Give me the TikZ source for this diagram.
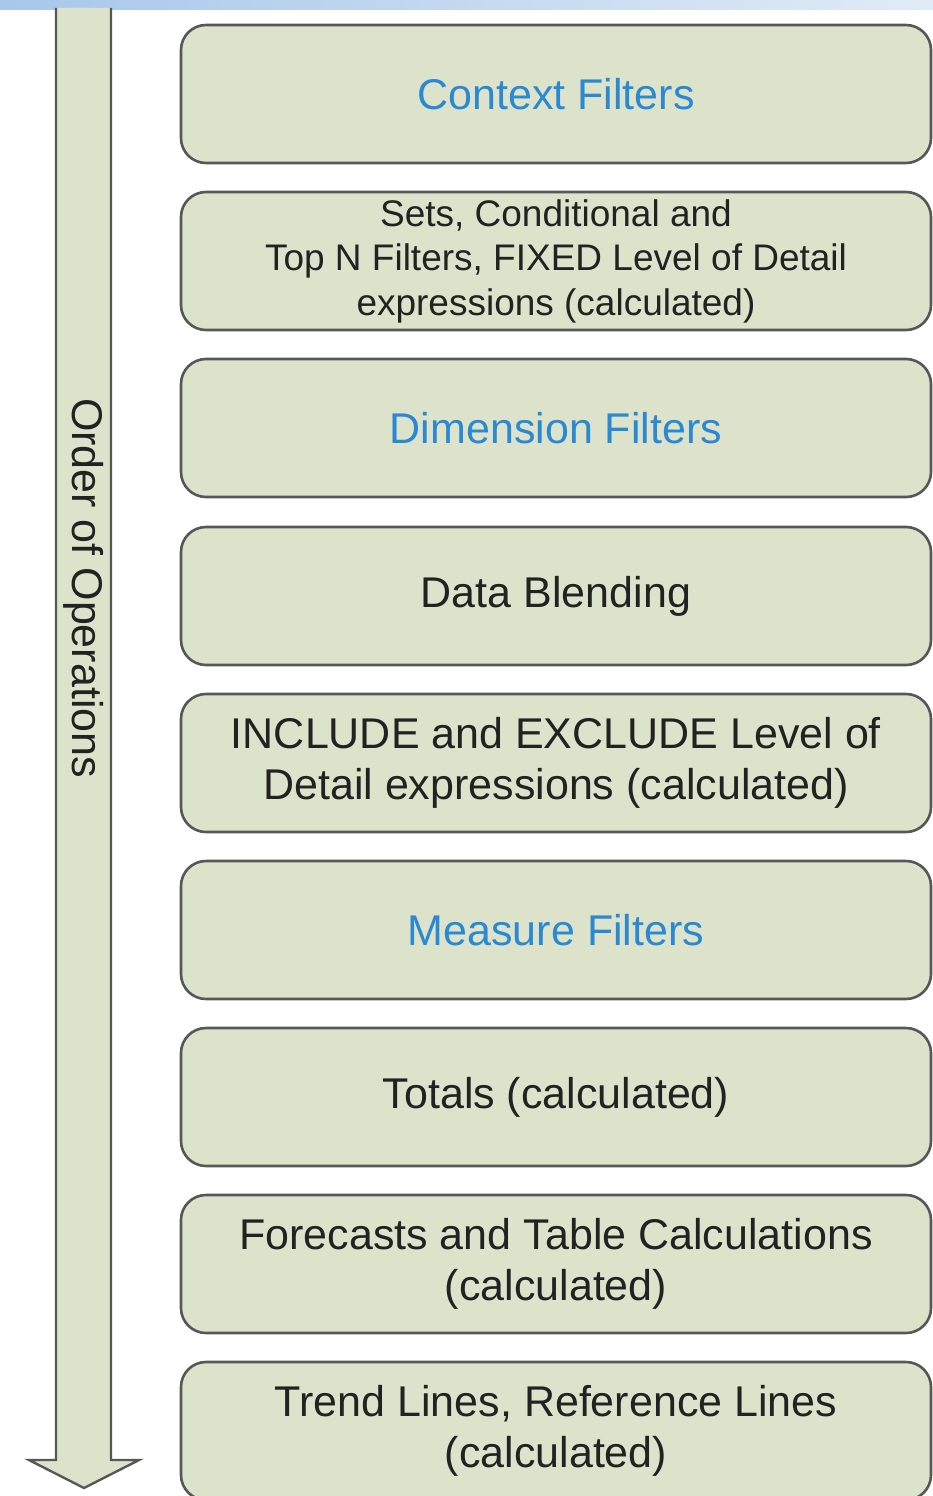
\documentclass[tikz,border=0pt]{standalone}
\usepackage{fontspec}
\setmainfont{Liberation Sans}
\definecolor{boxfill}{HTML}{DDE2CB}
\definecolor{boxline}{HTML}{575757}
\definecolor{linkblue}{HTML}{2A89D3}
\definecolor{inktext}{HTML}{222222}
\definecolor{barleft}{HTML}{A8C7EA}
\definecolor{barright}{HTML}{E1EBF7}
\tikzset{
  opbox/.style={draw=boxline, line width=2.6pt, fill=boxfill, rounded corners=25pt,
    minimum width=750pt, minimum height=138pt, align=center, inner sep=0pt,
    text=inktext, font=\fontsize{43}{51}\selectfont},
  smalltext/.style={font=\fontsize{37}{44.5}\selectfont},
  bluetext/.style={text=linkblue},
}
\begin{document}
\begin{tikzpicture}[x=1pt,y=-1pt]
\useasboundingbox (0,0) rectangle (933,1496);
% gradient strip along the top edge
\shade[left color=barleft, right color=barright] (0,0) rectangle (933,10);
% downward arrow
\draw[draw=boxline, line width=2.4pt, fill=boxfill, line join=miter]
  (56,8) -- (56,1460) -- (29,1460) -- (84,1488) -- (139,1460) -- (111,1460) -- (111,8);
\node[rotate=-90, text=inktext, font=\fontsize{43}{51}\selectfont] (order) at (84,588) {Order of Operations};
% operation stages
\node[opbox, bluetext] (s1) at (556,94) {Context Filters};
\node[opbox, smalltext] (s2) at (556,261) {Sets, Conditional and\\Top N Filters, FIXED Level of Detail\\expressions (calculated)};
\node[opbox, bluetext] (s3) at (556,428) {Dimension Filters};
\node[opbox] (s4) at (556,596) {Data Blending};
\node[opbox] (s5) at (556,763) {INCLUDE and EXCLUDE Level of\\Detail expressions (calculated)};
\node[opbox, bluetext] (s6) at (556,930) {Measure Filters};
\node[opbox] (s7) at (556,1097) {Totals (calculated)};
\node[opbox] (s8) at (556,1264) {Forecasts and Table Calculations\\(calculated)};
\node[opbox] (s9) at (556,1431) {Trend Lines, Reference Lines\\(calculated)};
\end{tikzpicture}
\end{document}
